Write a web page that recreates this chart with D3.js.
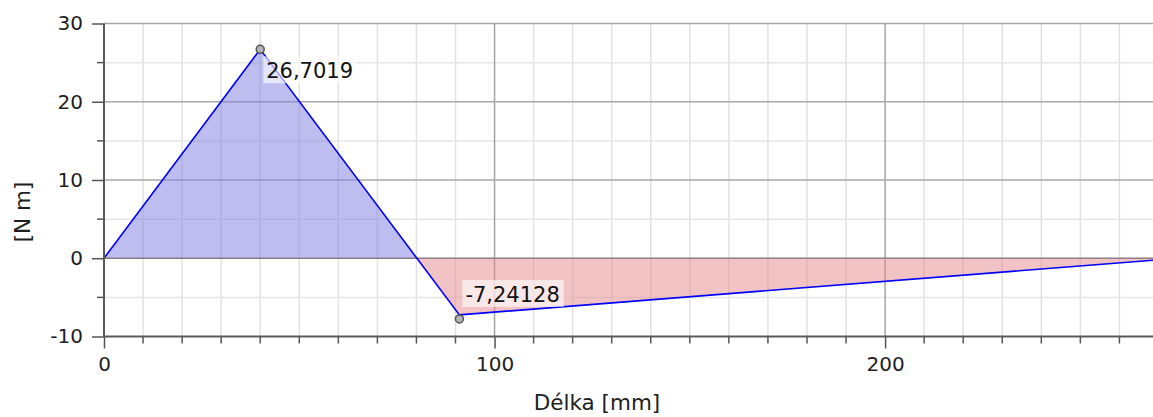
<!DOCTYPE html>
<html>
<head>
<meta charset="utf-8">
<script src="https://cdn.jsdelivr.net/npm/d3@7"></script>
<style>
  html, body { margin: 0; padding: 0; background: #fff; }
  svg { display: block; font-family: "DejaVu Sans", sans-serif; }
</style>
</head>
<body>
<svg id="chart" width="1153" height="417"></svg>
<script>
// ---- data ----
const positions = [0, 40, 91, 268.6];          // Délka [mm]
const moments   = [0, 26.7019, -7.24128, -0.25]; // [N m]
const labelledIdx = [1, 2];
const labelTexts = ["26,7019", "-7,24128"];
const xDomain = [0, 268.6];
const yDomain = [-10, 30];
const xMajorTicks = [0, 100, 200];
const yMajorTicks = [-10, 0, 10, 20, 30];
const xTitle = "Délka [mm]";
const yTitle = "[N m]";

const pts = positions.map((p, i) => ({ x: p, y: moments[i] }));

const svg = d3.select("#chart");
const W = 1153, H = 417;
const m = { left: 104, right: 0, top: 23.5, bottom: 80.5 };
const x = d3.scaleLinear().domain(xDomain).range([m.left, W - m.right]);
const y = d3.scaleLinear().domain(yDomain).range([H - m.bottom, m.top]);
const fmt = d => String(d);

const xMinor = d3.range(10, xDomain[1], 10).filter(v => !xMajorTicks.includes(v));
const yMinor = d3.range(-5, 30, 10);

// grid
const grid = svg.append("g");
grid.selectAll(".vmin").data(xMinor).enter().append("line")
  .attr("x1", d => x(d)).attr("x2", d => x(d))
  .attr("y1", y(yDomain[1])).attr("y2", y(yDomain[0]))
  .attr("stroke", "#e2e2e2").attr("stroke-width", 1.5);
grid.selectAll(".hmin").data(yMinor).enter().append("line")
  .attr("x1", m.left).attr("x2", W)
  .attr("y1", d => y(d)).attr("y2", d => y(d))
  .attr("stroke", "#e6e6e6").attr("stroke-width", 1.5);
grid.selectAll(".vmaj").data(xMajorTicks.filter(v => v > 0)).enter().append("line")
  .attr("x1", d => x(d)).attr("x2", d => x(d))
  .attr("y1", y(yDomain[1])).attr("y2", y(yDomain[0]))
  .attr("stroke", "#a4a4a4").attr("stroke-width", 1.5);
grid.selectAll(".hmaj").data(yMajorTicks.filter(v => v > yDomain[0] && v !== 0)).enter().append("line")
  .attr("x1", m.left).attr("x2", W)
  .attr("y1", d => y(d)).attr("y2", d => y(d))
  .attr("stroke", "#a8a8a8").attr("stroke-width", 1.5);
grid.append("line")
  .attr("x1", m.left).attr("x2", W).attr("y1", y(0)).attr("y2", y(0))
  .attr("stroke", "#7c7c7c").attr("stroke-width", 1.5);

// fills
const defs = svg.append("defs");
defs.append("clipPath").attr("id", "clipPos").append("rect")
  .attr("x", m.left).attr("y", 0).attr("width", W).attr("height", y(0));
defs.append("clipPath").attr("id", "clipNeg").append("rect")
  .attr("x", m.left).attr("y", y(0)).attr("width", W).attr("height", H);
const area = d3.area().x(d => x(d.x)).y0(y(0)).y1(d => y(d.y));
svg.append("path").datum(pts).attr("d", area)
  .attr("fill", "#7c7ce2").attr("fill-opacity", 0.5).attr("clip-path", "url(#clipPos)");
svg.append("path").datum(pts).attr("d", area)
  .attr("fill", "#e6878a").attr("fill-opacity", 0.5).attr("clip-path", "url(#clipNeg)");

// line
svg.append("path").datum(pts)
  .attr("d", d3.line().x(d => x(d.x)).y(d => y(d.y)))
  .attr("fill", "none").attr("stroke", "#0000ff").attr("stroke-width", 1.6);

// axes
const xAxis = d3.axisBottom(x).tickValues(xMajorTicks).tickSize(12).tickPadding(8).tickFormat(fmt);
const gx = svg.append("g").attr("transform", `translate(0,${y(yDomain[0])})`).call(xAxis);
gx.append("g").selectAll("line").data(xMinor).enter().append("line")
  .attr("x1", d => x(d)).attr("x2", d => x(d)).attr("y1", 0).attr("y2", 7)
  .attr("stroke", "#555").attr("stroke-width", 1.5);
const yAxis = d3.axisLeft(y).tickValues(yMajorTicks).tickSize(12).tickPadding(9).tickFormat(fmt);
const gy = svg.append("g").attr("transform", `translate(${m.left},0)`).call(yAxis);
gy.append("g").selectAll("line").data(yMinor).enter().append("line")
  .attr("y1", d => y(d)).attr("y2", d => y(d)).attr("x1", -7).attr("x2", 0)
  .attr("stroke", "#555").attr("stroke-width", 1.5);
[gx, gy].forEach(g => {
  g.select(".domain").attr("stroke", "#5a5a5a").attr("stroke-width", 2);
  g.selectAll(".tick line").attr("stroke", "#555").attr("stroke-width", 1.5);
  g.selectAll(".tick text").attr("fill", "#1e1e1e").style("font-size", "20px")
    .style("font-family", "'DejaVu Sans', sans-serif");
});
gx.select(".domain").attr("d", `M${m.left},0H${W}`);
gy.select(".domain").attr("d", `M0,${y(yDomain[1])}V${y(yDomain[0])}`);

// titles
svg.append("text").attr("x", 597).attr("y", 410)
  .attr("text-anchor", "middle").attr("fill", "#1e1e1e")
  .style("font-size", "21.5px").text(xTitle);
svg.append("text").attr("transform", `translate(30,${212}) rotate(-90)`)
  .attr("text-anchor", "middle").attr("fill", "#1e1e1e")
  .style("font-size", "21.5px").text(yTitle);

// markers + labels
labelledIdx.forEach((idx, k) => {
  const d = pts[idx];
  const cx = x(d.x), cy = y(d.y);
  const g = svg.append("g");
  const t = g.append("text").attr("fill", "#111").style("font-size", "21px").text(labelTexts[k]);
  const bb = t.node().getBBox();
  const bw = bb.width + 7, bh = 27;
  const bx = cx + 3;
  const by = d.y >= 0 ? cy + 7 : cy - 35;
  g.insert("rect", "text").attr("x", bx).attr("y", by).attr("width", bw).attr("height", bh)
    .attr("fill", "#ffffff").attr("fill-opacity", 0.6);
  t.attr("x", bx + 3).attr("y", by + 22);
  svg.append("circle").attr("cx", cx).attr("cy", cy + (d.y < 0 ? 4 : 0)).attr("r", 4)
    .attr("fill", "#b4b4b4").attr("stroke", "#555").attr("stroke-width", 1.5);
});
</script>
</body>
</html>
